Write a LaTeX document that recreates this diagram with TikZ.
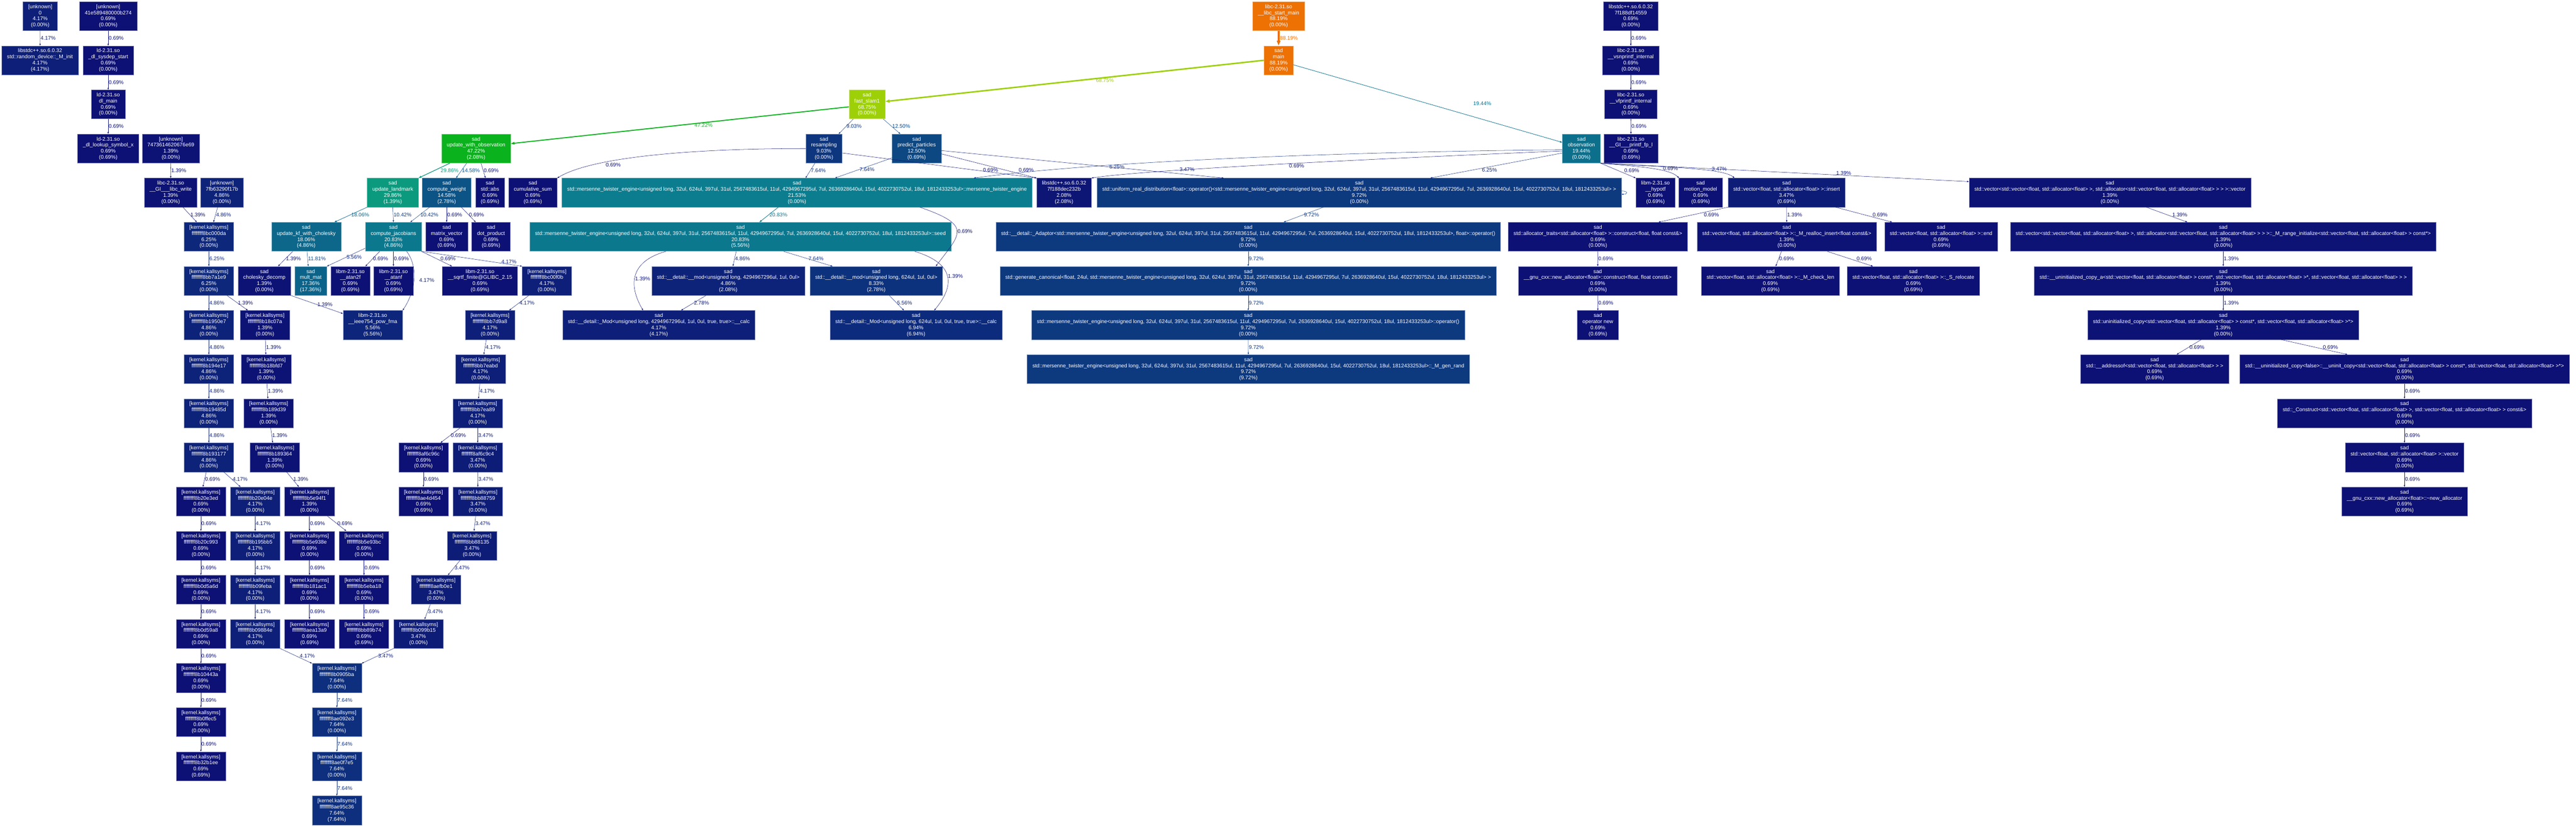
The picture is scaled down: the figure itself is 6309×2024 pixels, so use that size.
\documentclass[tikz,border=0pt]{standalone}
\usepackage{fontspec}
\setmainfont{Liberation Sans}[Ligatures=NoCommon]
\usetikzlibrary{arrows.meta}

\definecolor{c8819}{HTML}{ED7103}
\definecolor{c6875}{HTML}{9ED007}
\definecolor{c4722}{HTML}{0AB21D}
\definecolor{c2986}{HTML}{0C9A7E}
\definecolor{c2153}{HTML}{0C7D8F}
\definecolor{c2083}{HTML}{0C788E}
\definecolor{c1944}{HTML}{0C708C}
\definecolor{c1806}{HTML}{0C678A}
\definecolor{c1736}{HTML}{0C6389}
\definecolor{c1458}{HTML}{0C5386}
\definecolor{c1250}{HTML}{0D4883}
\definecolor{c1181}{HTML}{0D4482}
\definecolor{c1042}{HTML}{0D3D80}
\definecolor{c0972}{HTML}{0D397F}
\definecolor{c0903}{HTML}{0D367E}
\definecolor{c0833}{HTML}{0D327D}
\definecolor{c0764}{HTML}{0D2F7D}
\definecolor{c0694}{HTML}{0D2B7C}
\definecolor{c0625}{HTML}{0D287B}
\definecolor{c0556}{HTML}{0D257A}
\definecolor{c0486}{HTML}{0D2279}
\definecolor{c0417}{HTML}{0D1F78}
\definecolor{c0347}{HTML}{0D1C77}
\definecolor{c0278}{HTML}{0D1876}
\definecolor{c0208}{HTML}{0D1575}
\definecolor{c0139}{HTML}{0D1375}
\definecolor{c0069}{HTML}{0D1074}

\newcommand{\nodefont}{\fontsize{12.9pt}{14.9pt}\selectfont}
\newcommand{\fnl}[4]{#1\\#2\\#3\%\\(#4\%)}
\newcommand{\ksym}[3]{\fnl{[kernel.kallsyms]}{ffffffff#1}{#2}{#3}}
\newcommand{\mtargs}{unsigned long, 32ul, 624ul, 397ul, 31ul, 2567483615ul, 11ul, 4294967295ul, 7ul, 2636928640ul, 15ul, 4022730752ul, 18ul, 1812433253ul}
\newcommand{\mteng}{std::mersenne\_twister\_engine<\mtargs>}
\newcommand{\vecf}{std::vector<float, std::allocator<float> >}

\begin{document}
\begin{tikzpicture}[x=1pt,y=-1pt,
  fn/.style={draw=#1!55!white, fill=#1, text=white, line width=0.6pt, align=center, inner xsep=13pt, inner ysep=1pt, minimum height=71pt, font=\nodefont},
  call/.style={color=#1, line width=0.65pt, -{Triangle[length=4.6pt,width=3.2pt]}, nodes={font=\nodefont, inner sep=1pt}}]
\path [use as bounding box, fill=white] (0,0) rectangle (6309,2024);

% row 1
\node [fn=c0417] (unk0) at (98.5,39.5) {\fnl{[unknown]}{0}{4.17}{0.00}};
\node [fn=c0069] (unkA) at (265,39.5) {\fnl{[unknown]}{41e589480000b274}{0.69}{0.00}};
\node [fn=c8819] (libcstart) at (3131.5,39.5) {\fnl{libc-2.31.so}{\_\_libc\_start\_main}{88.19}{0.00}};
\node [fn=c0069] (cxxA) at (3994,39.5) {\fnl{libstdc++.so.6.0.32}{7f188df14559}{0.69}{0.00}};
% row 2
\node [fn=c0417] (rnddev) at (98,147.6) {\fnl{libstdc++.so.6.0.32}{std::random\_device::\_M\_init}{4.17}{4.17}};
\node [fn=c0069] (sysdep) at (265,147.6) {\fnl{ld-2.31.so}{\_dl\_sysdep\_start}{0.69}{0.00}};
\node [fn=c8819] (main) at (3131.5,147.6) {\fnl{sad}{main}{88.19}{0.00}};
\node [fn=c0069] (vsnprintf) at (3994,147.6) {\fnl{libc-2.31.so}{\_\_vsnprintf\_internal}{0.69}{0.00}};
% row 3
\node [fn=c0069] (dlmain) at (265,255.6) {\fnl{ld-2.31.so}{dl\_main}{0.69}{0.00}};
\node [fn=c6875] (fastslam) at (2123.5,255.6) {\fnl{sad}{fast\_slam1}{68.75}{0.00}};
\node [fn=c0069] (vfprintf) at (3994,255.6) {\fnl{libc-2.31.so}{\_\_vfprintf\_internal}{0.69}{0.00}};
% row 4
\node [fn=c0069] (lookup) at (265,363.7) {\fnl{ld-2.31.so}{\_dl\_lookup\_symbol\_x}{0.69}{0.69}};
\node [fn=c0139] (unkB) at (418.5,363.7) {\fnl{[unknown]}{7473614620676e69}{1.39}{0.00}};
\node [fn=c4722] (updobs) at (1166,363.7) {\fnl{sad}{update\_with\_observation}{47.22}{2.08}};
\node [fn=c0903] (resamp) at (2018,363.7) {\fnl{sad}{resampling}{9.03}{0.00}};
\node [fn=c1250] (predict) at (2245,363.7) {\fnl{sad}{predict\_particles}{12.50}{0.69}};
\node [fn=c1944] (observ) at (3873,363.7) {\fnl{sad}{observation}{19.44}{0.00}};
\node [fn=c0069] (printfp) at (3994.5,363.7) {\fnl{libc-2.31.so}{\_\_GI\_\_\_printf\_fp\_l}{0.69}{0.69}};
% row 5
\node [fn=c0139] (libcwrite) at (418,471.7) {\fnl{libc-2.31.so}{\_\_GI\_\_\_libc\_write}{1.39}{0.00}};
\node [fn=c0486] (unkC) at (543.5,471.7) {\fnl{[unknown]}{7fb63290f17b}{4.86}{0.00}};
\node [fn=c2986] (updlm) at (962,471.7) {\fnl{sad}{update\_landmark}{29.86}{1.39}};
\node [fn=c1458] (compw) at (1094,471.7) {\fnl{sad}{compute\_weight}{14.58}{2.78}};
\node [fn=c0069] (stdabs) at (1200,471.7) {\fnl{sad}{std::abs}{0.69}{0.69}};
\node [fn=c0069] (cumsum) at (1305,471.7) {\fnl{sad}{cumulative\_sum}{0.69}{0.69}};
\node [fn=c2153] (mtctor) at (1952,471.7) {\fnl{sad}{\mteng::mersenne\_twister\_engine}{21.53}{0.00}};
\node [fn=c0208] (cxxB) at (2606,471.7) {\fnl{libstdc++.so.6.0.32}{7f188dec232b}{2.08}{2.08}};
\node [fn=c0972] (unireal) at (3329,471.7) {\fnl{sad}{std::uniform\_real\_distribution<float>::operator()<\mteng{} >}{9.72}{0.00}};
\node [fn=c0069] (hypotf) at (4054.5,471.7) {\fnl{libm-2.31.so}{\_\_hypotf}{0.69}{0.69}};
\node [fn=c0069] (motion) at (4165,471.7) {\fnl{sad}{motion\_model}{0.69}{0.69}};
\node [fn=c0347] (vinsert) at (4375.5,471.7) {\fnl{sad}{\vecf::insert}{3.47}{0.69}};
\node [fn=c0139] (vvctor) at (5167.5,471.7) {\fnl{sad}{std::vector<\vecf, std::allocator<\vecf{} > >::vector}{1.39}{0.00}};
% row 6
\node [fn=c0625] (k8bc000da) at (511.5,579.8) {\ksym{8bc000da}{6.25}{0.00}};
\node [fn=c1806] (updkf) at (750,579.8) {\fnl{sad}{update\_kf\_with\_cholesky}{18.06}{4.86}};
\node [fn=c2083] (jacob) at (963.5,579.8) {\fnl{sad}{compute\_jacobians}{20.83}{4.86}};
\node [fn=c0069] (matvec) at (1094,579.8) {\fnl{sad}{matrix\_vector}{0.69}{0.69}};
\node [fn=c0069] (dotprod) at (1202.5,579.8) {\fnl{sad}{dot\_product}{0.69}{0.69}};
\node [fn=c2083] (mtseed) at (1813.5,579.8) {\fnl{sad}{\mteng::seed}{20.83}{5.56}};
\node [fn=c0972] (adaptor) at (3057,579.8) {\fnl{sad}{std::\_\_detail::\_Adaptor<\mteng, float>::operator()}{9.72}{0.00}};
\node [fn=c0069] (alloctr) at (3913.5,579.8) {\fnl{sad}{std::allocator\_traits<std::allocator<float> >::construct<float, float const\&>}{0.69}{0.00}};
\node [fn=c0139] (realloc) at (4376,579.8) {\fnl{sad}{\vecf::\_M\_realloc\_insert<float const\&>}{1.39}{0.00}};
\node [fn=c0069] (vend) at (4754,579.8) {\fnl{sad}{\vecf::end}{0.69}{0.69}};
\node [fn=c0139] (rangeinit) at (5445,579.8) {\fnl{sad}{std::vector<\vecf, std::allocator<\vecf{} > >::\_M\_range\_initialize<\vecf{} const*>}{1.39}{0.00}};
% row 7
\node [fn=c0625] (k8bb7a1e9) at (511.5,687.8) {\ksym{8bb7a1e9}{6.25}{0.00}};
\node [fn=c0139] (chol) at (647.5,687.8) {\fnl{sad}{cholesky\_decomp}{1.39}{0.00}};
\node [fn=c1736] (multmat) at (761,687.8) {\fnl{sad}{mult\_mat}{17.36}{17.36}};
\node [fn=c0069] (atan2f) at (858,687.8) {\fnl{libm-2.31.so}{\_\_atan2f}{0.69}{0.69}};
\node [fn=c0069] (atanf) at (963.5,687.8) {\fnl{libm-2.31.so}{\_\_atanf}{0.69}{0.69}};
\node [fn=c0069] (sqrtf) at (1175.5,687.8) {\fnl{libm-2.31.so}{\_\_sqrtf\_finite@GLIBC\_2.15}{0.69}{0.69}};
\node [fn=c0417] (k8bc00f0b) at (1339.5,687.8) {\ksym{8bc00f0b}{4.17}{0.00}};
\node [fn=c0486] (modA) at (1783.5,687.8) {\fnl{sad}{std::\_\_detail::\_\_mod<unsigned long, 4294967296ul, 1ul, 0ul>}{4.86}{2.08}};
\node [fn=c0833] (modB) at (2146,687.8) {\fnl{sad}{std::\_\_detail::\_\_mod<unsigned long, 624ul, 1ul, 0ul>}{8.33}{2.78}};
\node [fn=c0972] (gencan) at (3057,687.8) {\fnl{sad}{std::generate\_canonical<float, 24ul, \mteng{} >}{9.72}{0.00}};
\node [fn=c0069] (newalloc) at (3913,687.8) {\fnl{sad}{\_\_gnu\_cxx::new\_allocator<float>::construct<float, float const\&>}{0.69}{0.00}};
\node [fn=c0069] (checklen) at (4336,687.8) {\fnl{sad}{\vecf::\_M\_check\_len}{0.69}{0.69}};
\node [fn=c0069] (relocate) at (4686,687.8) {\fnl{sad}{\vecf::\_S\_relocate}{0.69}{0.69}};
\node [fn=c0139] (uninitA) at (5445,687.8) {\fnl{sad}{std::\_\_uninitialized\_copy\_a<\vecf{} const*, \vecf*, \vecf{} >}{1.39}{0.00}};
% row 8
\node [fn=c0486] (k8b1950e7) at (511.5,795.9) {\ksym{8b1950e7}{4.86}{0.00}};
\node [fn=c0139] (k8b18c07a) at (649,795.9) {\ksym{8b18c07a}{1.39}{0.00}};
\node [fn=c0556] (powfma) at (913,795.9) {\fnl{libm-2.31.so}{\_\_ieee754\_pow\_fma}{5.56}{5.56}};
\node [fn=c0417] (k8bb7d9a8) at (1200,795.9) {\ksym{8bb7d9a8}{4.17}{0.00}};
\node [fn=c0417] (calcA) at (1613.5,795.9) {\fnl{sad}{std::\_\_detail::\_Mod<unsigned long, 4294967296ul, 1ul, 0ul, true, true>::\_\_calc}{4.17}{4.17}};
\node [fn=c0694] (calcB) at (2243.5,795.9) {\fnl{sad}{std::\_\_detail::\_Mod<unsigned long, 624ul, 1ul, 0ul, true, true>::\_\_calc}{6.94}{6.94}};
\node [fn=c0972] (mtop) at (3057,795.9) {\fnl{sad}{\mteng::operator()}{9.72}{0.00}};
\node [fn=c0069] (opnew) at (3913.5,795.9) {\fnl{sad}{operator new}{0.69}{0.69}};
\node [fn=c0139] (uninitcp) at (5445,795.9) {\fnl{sad}{std::uninitialized\_copy<\vecf{} const*, \vecf*>}{1.39}{0.00}};
% row 9
\node [fn=c0486] (k8b194e17) at (511.5,903.9) {\ksym{8b194e17}{4.86}{0.00}};
\node [fn=c0139] (k8b18bfd7) at (652,903.9) {\ksym{8b18bfd7}{1.39}{0.00}};
\node [fn=c0417] (k8bb7eabd) at (1177,903.9) {\ksym{8bb7eabd}{4.17}{0.00}};
\node [fn=c0972] (genrand) at (3057.5,903.9) {\fnl{sad}{\mteng::\_M\_gen\_rand}{9.72}{9.72}};
\node [fn=c0069] (addrof) at (5277,903.9) {\fnl{sad}{std::\_\_addressof<\vecf{} >}{0.69}{0.69}};
\node [fn=c0069] (uninitcpy) at (5889,903.9) {\fnl{sad}{std::\_\_uninitialized\_copy<false>::\_\_uninit\_copy<\vecf{} const*, \vecf*>}{0.69}{0.00}};
% row 10
\node [fn=c0486] (k8b19485d) at (511.5,1012) {\ksym{8b19485d}{4.86}{0.00}};
\node [fn=c0139] (k8b189d39) at (658,1012) {\ksym{8b189d39}{1.39}{0.00}};
\node [fn=c0417] (k8bb7ea89) at (1170,1012) {\ksym{8bb7ea89}{4.17}{0.00}};
\node [fn=c0069] (construct) at (5889,1012) {\fnl{sad}{std::\_Construct<\vecf, \vecf{} const\&>}{0.69}{0.00}};
% row 11
\node [fn=c0486] (k8b193177) at (511.5,1120) {\ksym{8b193177}{4.86}{0.00}};
\node [fn=c0139] (k8b189364) at (673,1120) {\ksym{8b189364}{1.39}{0.00}};
\node [fn=c0069] (k8af6c96c) at (1037,1120) {\ksym{8af6c96c}{0.69}{0.00}};
\node [fn=c0347] (k8af6c9c4) at (1170,1120) {\ksym{8af6c9c4}{3.47}{0.00}};
\node [fn=c0069] (vctor) at (5889,1120) {\fnl{sad}{\vecf::vector}{0.69}{0.00}};
% row 12
\node [fn=c0069] (k8b20e3ed) at (492,1228.1) {\ksym{8b20e3ed}{0.69}{0.00}};
\node [fn=c0417] (k8b20e04e) at (625,1228.1) {\ksym{8b20e04e}{4.17}{0.00}};
\node [fn=c0139] (k8b5e94f1) at (758,1228.1) {\ksym{8b5e94f1}{1.39}{0.00}};
\node [fn=c0069] (k8ae4d454) at (1037,1228.1) {\ksym{8ae4d454}{0.69}{0.69}};
\node [fn=c0347] (k8bb88759) at (1170.5,1228.1) {\ksym{8bb88759}{3.47}{0.00}};
\node [fn=c0069] (dtor) at (5889,1228.1) {\fnl{sad}{\_\_gnu\_cxx::new\_allocator<float>::\textasciitilde new\_allocator}{0.69}{0.69}};
% row 13
\node [fn=c0069] (k8b20c993) at (492,1336.1) {\ksym{8b20c993}{0.69}{0.00}};
\node [fn=c0417] (k8b195bb5) at (625,1336.1) {\ksym{8b195bb5}{4.17}{0.00}};
\node [fn=c0069] (k8b5e938e) at (758,1336.1) {\ksym{8b5e938e}{0.69}{0.00}};
\node [fn=c0069] (k8b5e93bc) at (891.5,1336.1) {\ksym{8b5e93bc}{0.69}{0.00}};
\node [fn=c0347] (k8bb88135) at (1156,1336.1) {\ksym{8bb88135}{3.47}{0.00}};
% row 14
\node [fn=c0069] (k8b0d5a6d) at (492,1444.2) {\ksym{8b0d5a6d}{0.69}{0.00}};
\node [fn=c0417] (k8b09feba) at (625,1444.2) {\ksym{8b09feba}{4.17}{0.00}};
\node [fn=c0069] (k8b181ac1) at (758,1444.2) {\ksym{8b181ac1}{0.69}{0.00}};
\node [fn=c0069] (k8b5eba18) at (891.5,1444.2) {\ksym{8b5eba18}{0.69}{0.00}};
\node [fn=c0347] (k8aefb0e1) at (1068,1444.2) {\ksym{8aefb0e1}{3.47}{0.00}};
% row 15
\node [fn=c0069] (k8b0d59a8) at (492,1552.2) {\ksym{8b0d59a8}{0.69}{0.00}};
\node [fn=c0417] (k8b09884e) at (625,1552.2) {\ksym{8b09884e}{4.17}{0.00}};
\node [fn=c0069] (k8aea13a9) at (758,1552.2) {\ksym{8aea13a9}{0.69}{0.69}};
\node [fn=c0069] (k8bb89b74) at (891.5,1552.2) {\ksym{8bb89b74}{0.69}{0.69}};
\node [fn=c0347] (k8b099b15) at (1025,1552.2) {\ksym{8b099b15}{3.47}{0.00}};
% rows 16-19
\node [fn=c0069] (k8b10443a) at (492,1660.3) {\ksym{8b10443a}{0.69}{0.00}};
\node [fn=c0764] (k8b0905ba) at (825,1660.3) {\ksym{8b0905ba}{7.64}{0.00}};
\node [fn=c0069] (k8b0ffec5) at (492,1768.3) {\ksym{8b0ffec5}{0.69}{0.00}};
\node [fn=c0764] (k8ae092e3) at (825,1768.3) {\ksym{8ae092e3}{7.64}{0.00}};
\node [fn=c0069] (k8b32b1ee) at (492,1876.4) {\ksym{8b32b1ee}{0.69}{0.69}};
\node [fn=c0764] (k8ae0f7e5) at (825,1876.4) {\ksym{8ae0f7e5}{7.64}{0.00}};
\node [fn=c0764] (k8ae95c36) at (825,1984.4) {\ksym{8ae95c36}{7.64}{7.64}};

% left roots
\draw [call=c0417] (unk0)--node[right] {4.17\%} (rnddev);
\draw [call=c0069] (unkA)--node[right] {0.69\%} (sysdep);
\draw [call=c0069] (sysdep)--node[right] {0.69\%} (dlmain);
\draw [call=c0069] (dlmain)--node[right] {0.69\%} (lookup);
\draw [call=c0139] (unkB)--node[right] {1.39\%} (libcwrite);
\draw [call=c0139] ([xshift=30pt]libcwrite.south)--node[right] {1.39\%} ([xshift=-29.5pt]k8bc000da.north);
\draw [call=c0486] ([xshift=-10.5pt]unkC.south)--node[right] {4.86\%} ([xshift=11.5pt]k8bc000da.north);
\draw [call=c0625] (k8bc000da)--node[right] {6.25\%} (k8bb7a1e9);
\draw [call=c0486] (k8bb7a1e9)--node[right] {4.86\%} (k8b1950e7);
\draw [call=c0139] ([xshift=44.5pt]k8bb7a1e9.south)--node[right] {1.39\%} ([xshift=-42pt]k8b18c07a.north);
\draw [call=c0486] (k8b1950e7)--node[right] {4.86\%} (k8b194e17);
\draw [call=c0486] (k8b194e17)--node[right] {4.86\%} (k8b19485d);
\draw [call=c0486] (k8b19485d)--node[right] {4.86\%} (k8b193177);
\draw [call=c0139] (k8b18c07a)--node[right] {1.39\%} (k8b18bfd7);
\draw [call=c0139] (k8b18bfd7)--node[right] {1.39\%} (k8b189d39);
\draw [call=c0139] ([xshift=5pt]k8b189d39.south)--node[right] {1.39\%} ([xshift=-5pt]k8b189364.north);
\draw [call=c0069] ([xshift=-6.5pt]k8b193177.south)--node[right] {0.69\%} ([xshift=5pt]k8b20e3ed.north);
\draw [call=c0417] ([xshift=36.5pt]k8b193177.south)--node[right] {4.17\%} ([xshift=-36pt]k8b20e04e.north);
\draw [call=c0139] ([xshift=29pt]k8b189364.south)--node[right] {1.39\%} ([xshift=-26pt]k8b5e94f1.north);
\draw [call=c0069] (k8b20e3ed)--node[right] {0.69\%} (k8b20c993);
\draw [call=c0069] (k8b20c993)--node[right] {0.69\%} (k8b0d5a6d);
\draw [call=c0069] (k8b0d5a6d)--node[right] {0.69\%} (k8b0d59a8);
\draw [call=c0069] (k8b0d59a8)--node[right] {0.69\%} (k8b10443a);
\draw [call=c0069] (k8b10443a)--node[right] {0.69\%} (k8b0ffec5);
\draw [call=c0069] (k8b0ffec5)--node[right] {0.69\%} (k8b32b1ee);
\draw [call=c0417] (k8b20e04e)--node[right] {4.17\%} (k8b195bb5);
\draw [call=c0417] (k8b195bb5)--node[right] {4.17\%} (k8b09feba);
\draw [call=c0417] (k8b09feba)--node[right] {4.17\%} (k8b09884e);
\draw [call=c0417] (k8b09884e.south east)--node[right=8pt] {4.17\%} (k8b0905ba.north west);
\draw [call=c0069] (k8b5e94f1)--node[right] {0.69\%} (k8b5e938e);
\draw [call=c0069] ([xshift=44pt]k8b5e94f1.south)--node[right] {0.69\%} ([xshift=-43.5pt]k8b5e93bc.north);
\draw [call=c0069] (k8b5e938e)--node[right] {0.69\%} (k8b181ac1);
\draw [call=c0069] (k8b181ac1)--node[right] {0.69\%} (k8aea13a9);
\draw [call=c0069] (k8b5e93bc)--node[right] {0.69\%} (k8b5eba18);
\draw [call=c0069] (k8b5eba18)--node[right] {0.69\%} (k8bb89b74);
\draw [call=c0764] (k8b0905ba)--node[right] {7.64\%} (k8ae092e3);
\draw [call=c0764] (k8ae092e3)--node[right] {7.64\%} (k8ae0f7e5);
\draw [call=c0764] (k8ae0f7e5)--node[right] {7.64\%} (k8ae95c36);

% kernel chain under compute_jacobians
\draw [call=c0417] (jacob.south east)--node[pos=0.87, above] {4.17\%} (k8bc00f0b.north west);
\draw [call=c0417] ([xshift=-44.5pt]k8bc00f0b.south)--node[right] {4.17\%} ([xshift=47pt]k8bb7d9a8.north);
\draw [call=c0417] ([xshift=-9pt]k8bb7d9a8.south)--node[right] {4.17\%} ([xshift=8pt]k8bb7eabd.north);
\draw [call=c0417] ([xshift=-2pt]k8bb7eabd.south)--node[right] {4.17\%} ([xshift=2pt]k8bb7ea89.north);
\draw [call=c0069] ([xshift=-43pt]k8bb7ea89.south)--node[right] {0.69\%} ([xshift=42pt]k8af6c96c.north);
\draw [call=c0347] (k8bb7ea89)--node[right] {3.47\%} (k8af6c9c4);
\draw [call=c0069] (k8af6c96c)--node[right] {0.69\%} (k8ae4d454);
\draw [call=c0347] (k8af6c9c4)--node[right] {3.47\%} (k8bb88759);
\draw [call=c0347] ([xshift=-5.5pt]k8bb88759.south)--node[right] {3.47\%} ([xshift=5pt]k8bb88135.north);
\draw [call=c0347] ([xshift=-29pt]k8bb88135.south)--node[right] {3.47\%} ([xshift=29pt]k8aefb0e1.north);
\draw [call=c0347] ([xshift=-14pt]k8aefb0e1.south)--node[right] {3.47\%} ([xshift=15pt]k8b099b15.north);
\draw [call=c0347] (k8b099b15.south west)--node[right] {3.47\%} (k8b0905ba.north east);

% main path
\draw [call=c8819, line width=4.55pt, -{Triangle[length=12pt,width=8.5pt]}] (libcstart)--node[right] {88.19\%} (main);
\draw [call=c6875, line width=3.55pt, -{Triangle[length=10.7pt,width=7.5pt]}] (main.west)--node[pos=0.42, below] {68.75\%} ([yshift=7pt]fastslam.east);
\draw [call=c1944, line width=1pt, -{Triangle[length=5.7pt,width=4pt]}] ([yshift=-11pt]main.east)--node[pos=0.5, right=110pt] {19.44\%} ([yshift=15pt]observ.west);
\draw [call=c4722, line width=2.44pt, -{Triangle[length=8.9pt,width=6.2pt]}] ([yshift=-6pt]fastslam.west)--node[pos=0.43, below] {47.22\%} ([yshift=12pt]updobs.east);
\draw [call=c0903] ([xshift=-33.5pt]fastslam.south)--node[right] {9.03\%} ([xshift=36pt]resamp.north);
\draw [call=c1250] ([xshift=39.5pt]fastslam.south)--node[right] {12.50\%} ([xshift=-40pt]predict.north);

% update_with_observation
\draw [call=c2986, line width=1.54pt, -{Triangle[length=7pt,width=4.9pt]}] ([xshift=-64pt]updobs.south)--node[right=14pt] {29.86\%} (updlm.north east);
\draw [call=c1458, line width=0.75pt, -{Triangle[length=4.9pt,width=3.4pt]}] ([xshift=-23pt]updobs.south)--node[right] {14.58\%} ([xshift=23pt]compw.north);
\draw [call=c0069] ([xshift=12pt]updobs.south)--node[right] {0.69\%} ([xshift=-11pt]stdabs.north);
\draw [call=c1806, line width=0.93pt, -{Triangle[length=5.5pt,width=3.8pt]}] (updlm.south west)--node[right] {18.06\%} ([xshift=69pt]updkf.north);
\draw [call=c1042] (updlm.south)--node[right] {10.42\%} (jacob.north);
\draw [call=c1042] ([xshift=-42pt]compw.south)--node[right] {10.42\%} ([xshift=41.5pt]jacob.north);
\draw [call=c0069] (compw)--node[right] {0.69\%} (matvec);
\draw [call=c0069] ([xshift=36pt]compw.south)--node[right] {0.69\%} ([xshift=-37.5pt]dotprod.north);
\draw [call=c0139] ([xshift=-33pt]updkf.south)--node[right] {1.39\%} ([xshift=33.5pt]chol.north);
\draw [call=c1181] ([xshift=2pt]updkf.south)--node[right] {11.81\%} ([xshift=-6pt]multmat.north);
\draw [call=c0556] ([yshift=-28pt]jacob.west)--node[right] {5.56\%} (multmat.north east);
\draw [call=c0069] ([xshift=-33.5pt]jacob.south)--node[right] {0.69\%} ([xshift=37pt]atan2f.north);
\draw [call=c0069] (jacob)--node[right] {0.69\%} (atanf);
\draw [call=c0417] ([xshift=32.5pt]jacob.south) .. controls +(30,40) and +(30,-45) .. node[right=12pt] {4.17\%} (powfma.north east);
\draw [call=c0069] (jacob.south east)--node[right=8pt] {0.69\%} ([xshift=-68.5pt]sqrtf.north);
\draw [call=c0139] (chol.south east)--node[right] {1.39\%} ([yshift=28pt]powfma.west);

% resampling and predict_particles
\draw [call=c0069] (resamp.west) .. controls +(-275,0) and +(86,-52) .. node[pos=0.7, below right] {0.69\%} (cumsum.north east);
\draw [call=c0764] ([xshift=-22pt]resamp.south)--node[right] {7.64\%} ([xshift=21pt]mtctor.north);
\draw [call=c0069] ([yshift=-11pt]resamp.east)--node[pos=0.68, right=20pt] {0.69\%} (cxxB.north west);
\draw [call=c0764] ([yshift=-23pt]predict.west)--node[pos=0.58, right] {7.64\%} ([xshift=93pt]mtctor.north);
\draw [call=c0069] ([yshift=-13pt]predict.east)--node[pos=0.67, right=32pt] {0.69\%} (cxxB.north west);
\draw [call=c0347] ([yshift=-5pt]predict.east)--node[pos=0.69, right=105pt] {3.47\%} ([xshift=-332pt]unireal.north);

% observation
\draw [call=c0625] ([yshift=-3pt]observ.west) .. controls +(-528,5) and +(315,-42) .. node[pos=0.7, below] {6.25\%} ([xshift=433pt]mtctor.north);
\draw [call=c0069] ([yshift=-6pt]observ.west) .. controls +(-528,22) and +(126,-19) .. node[pos=0.44, below] {0.69\%} (cxxB.north east);
\draw [call=c0625] ([yshift=-11pt]observ.west)--node[pos=0.68, right=22pt] {6.25\%} ([xshift=174pt]unireal.north);
\draw [call=c0069] (observ.south east)--node[right=14pt] {0.69\%} ([xshift=-48.5pt]hypotf.north);
\draw [call=c0069] (observ.south east) .. controls +(80,8) and +(-25,-25) .. node[pos=0.55, right=25pt] {0.69\%} ([xshift=-53pt]motion.north);
\draw [call=c0347] (observ.south east) .. controls +(150,10) and +(-30,-25) .. node[pos=0.55, right=45pt] {3.47\%} ([xshift=-127.5pt]vinsert.north);
\draw [call=c0139] (observ.south east)--node[pos=0.66, above] {1.39\%} ([yshift=27pt]vvctor.west);

% mersenne twister
\draw [call=c2083, line width=1.07pt, -{Triangle[length=5.9pt,width=4.1pt]}] ([xshift=-46pt]mtctor.south)--node[right] {20.83\%} ([xshift=46.5pt]mtseed.north);
\draw [call=c0069] ([xshift=301pt]mtctor.south) .. controls +(130,45) and +(60,-80) .. node[pos=0.5, right] {0.69\%} ([xshift=146pt]modB.north);
\draw [call=c0139] ([xshift=-182.5pt]mtseed.south) .. controls +(-90,25) and +(-35,-60) .. node[pos=0.55, right] {1.39\%} ([xshift=-38.5pt]calcA.north);
\draw [call=c0486] ([xshift=-10.5pt]mtseed.south)--node[right] {4.86\%} ([xshift=11.5pt]modA.north);
\draw [call=c0764] ([xshift=105.5pt]mtseed.south)--node[right] {7.64\%} ([xshift=-107pt]modB.north);
\draw [call=c0139] ([xshift=426.5pt]mtseed.south) .. controls +(100,30) and +(50,-60) .. node[pos=0.5, right] {1.39\%} ([xshift=44.5pt]calcB.north);
\draw [call=c0278] ([xshift=-54.5pt]modA.south)--node[right] {2.78\%} ([xshift=54.5pt]calcA.north);
\draw [call=c0556] ([xshift=32pt]modB.south)--node[right] {5.56\%} ([xshift=-29.5pt]calcB.north);
\draw [call=c0972] ([xshift=-88pt]unireal.south)--node[right] {9.72\%} ([xshift=87pt]adaptor.north);
\draw [call=c0972] ([yshift=4pt]unireal.east) .. controls +(16,0) and +(16,0) .. ([yshift=-4pt]unireal.east);
\draw [call=c0972] (adaptor)--node[right] {9.72\%} (gencan);
\draw [call=c0972] (gencan)--node[right] {9.72\%} (mtop);
\draw [call=c0972] (mtop)--node[right] {9.72\%} (genrand);

% vectors
\draw [call=c0069] (vinsert.south west)--node[right=25pt] {0.69\%} ([xshift=148.5pt]alloctr.north);
\draw [call=c0139] (vinsert)--node[right] {1.39\%} (realloc);
\draw [call=c0069] ([xshift=120.5pt]vinsert.south)--node[right=20pt] {0.69\%} ([xshift=-120pt]vend.north);
\draw [call=c0069] (alloctr)--node[right] {0.69\%} (newalloc);
\draw [call=c0069] (newalloc)--node[right] {0.69\%} (opnew);
\draw [call=c0069] ([xshift=-13pt]realloc.south)--node[right] {0.69\%} ([xshift=13pt]checklen.north);
\draw [call=c0069] ([xshift=99pt]realloc.south)--node[right=15pt] {0.69\%} ([xshift=-99pt]relocate.north);
\draw [call=c0139] ([xshift=89.5pt]vvctor.south)--node[right=12pt] {1.39\%} ([xshift=-88pt]rangeinit.north);
\draw [call=c0139] (rangeinit)--node[right] {1.39\%} (uninitA);
\draw [call=c0139] (uninitA)--node[right] {1.39\%} (uninitcp);
\draw [call=c0069] ([xshift=-54pt]uninitcp.south)--node[right] {0.69\%} ([xshift=54pt]addrof.north);
\draw [call=c0069] ([xshift=142pt]uninitcp.south)--node[right=20pt] {0.69\%} ([xshift=-140pt]uninitcpy.north);
\draw [call=c0069] (uninitcpy)--node[right] {0.69\%} (construct);
\draw [call=c0069] (construct)--node[right] {0.69\%} (vctor);
\draw [call=c0069] (vctor)--node[right] {0.69\%} (dtor);

% printf chain
\draw [call=c0069] (cxxA)--node[right] {0.69\%} (vsnprintf);
\draw [call=c0069] (vsnprintf)--node[right] {0.69\%} (vfprintf);
\draw [call=c0069] (vfprintf)--node[right] {0.69\%} (printfp);
\end{tikzpicture}
\end{document}
